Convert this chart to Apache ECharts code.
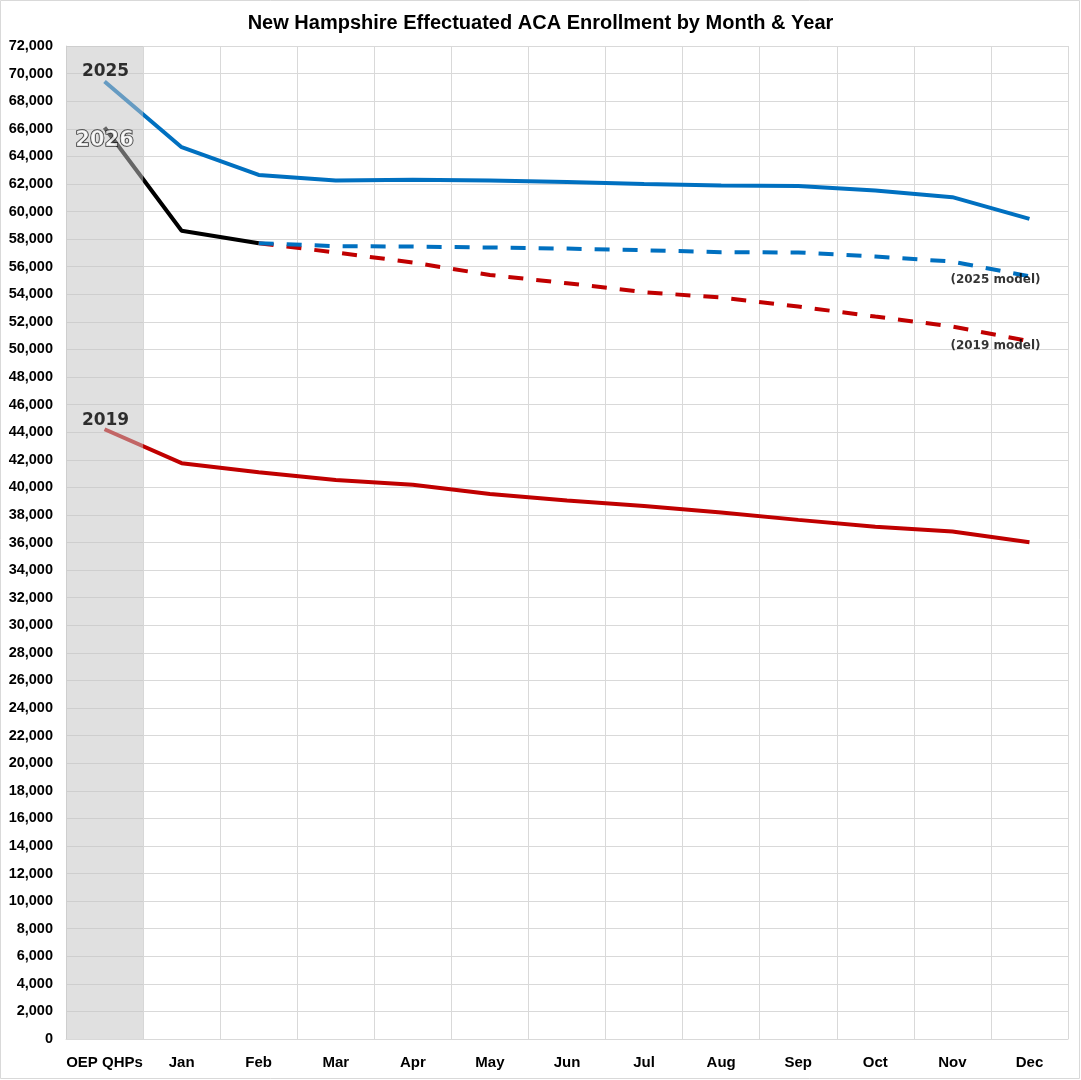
<!DOCTYPE html>
<html>
<head>
<meta charset="utf-8">
<title>New Hampshire Effectuated ACA Enrollment</title>
<script src="https://cdn.jsdelivr.net/npm/echarts@6/dist/echarts.min.js"></script>
<style>
	html, body { margin: 0; padding: 0; background: #fff; }
	#chart-container { width: 1081px; height: 1080px; }
</style>
</head>
<body>
<div id="chart-container"></div>
<script>
var months = ['OEP QHPs', 'Jan', 'Feb', 'Mar', 'Apr', 'May', 'Jun', 'Jul', 'Aug', 'Sep', 'Oct', 'Nov', 'Dec'];

// actual enrollment
var y2025 = [69430, 64660, 62650, 62240, 62300, 62240, 62130, 62000, 61880, 61850, 61520, 61040, 59470];
var y2026 = [66090, 58600, 57700];
var y2019 = [44210, 41750, 41100, 40540, 40180, 39520, 39040, 38650, 38170, 37640, 37150, 36790, 36020];

// projections from Feb onwards
var model2025 = [null, null, 57700, 57490, 57460, 57390, 57310, 57190, 57050, 57030, 56730, 56370, 55300];
var model2019 = [null, null, 57700, 57030, 56300, 55400, 54800, 54150, 53760, 53110, 52380, 51660, 50600];

// the open enrollment column is shaded over its full height
var oepBand = [72000, null, null, null, null, null, null, null, null, null, null, null, null];

var yearLabels = ['2025', '2026', '2019'];
var modelLabels = ['(2025 model)', '(2019 model)'];

var blue = '#0070c0';
var red = '#c00000';
var font = 'Liberation Sans, Arial, sans-serif';
var heavy = 'DejaVu Sans, Liberation Sans, sans-serif';

var dom = document.getElementById('chart-container');
var myChart = echarts.init(dom, null, {
	renderer: 'canvas',
	useDirtyRect: false
});

// text-only series used for the tags, kept above the grey band
function tag(text, cat, value, pos, offset, style) {
	return {
		type: 'scatter',
		z: 20,
		symbolSize: 1,
		itemStyle: { color: 'rgba(0,0,0,0)' },
		silent: true,
		data: [[cat, value]],
		label: Object.assign({
			show: true,
			formatter: text,
			position: pos,
			distance: 0,
			offset: offset,
			fontFamily: heavy,
			fontWeight: 'bold',
			color: '#000',
			textBorderWidth: 0
		}, style)
	};
}

var option;

option = {
	backgroundColor: '#fff',
	animation: false,
	title: {
		text: 'New Hampshire Effectuated ACA Enrollment by Month & Year',
		left: 'center',
		top: 8,
		textStyle: {
			fontFamily: 'Liberation Sans Narrow, Arial Narrow, Liberation Sans, sans-serif',
			fontWeight: 'bold',
			fontSize: 20,
			color: '#000'
		}
	},
	graphic: [{
		type: 'rect',
		silent: true,
		shape: { x: 0.5, y: 0.5, width: 1079, height: 1078 },
		style: { fill: 'none', stroke: '#d9d9d9', lineWidth: 1 }
	}],
	grid: {
		left: 66,
		right: 13,
		top: 46,
		bottom: 41
	},
	xAxis: {
		type: 'category',
		data: months,
		boundaryGap: true,
		axisLine: { show: true, lineStyle: { color: '#d9d9d9' } },
		axisTick: { show: false },
		axisLabel: {
			interval: 0,
			margin: 16,
			color: '#000',
			fontFamily: font,
			fontWeight: 'bold',
			fontSize: 15
		},
		splitLine: { show: true, interval: 0, lineStyle: { color: '#d9d9d9' } }
	},
	yAxis: {
		type: 'value',
		min: 0,
		max: 72000,
		interval: 2000,
		axisLine: { show: true, lineStyle: { color: '#d9d9d9' } },
		axisTick: { show: false },
		axisLabel: {
			margin: 13,
			color: '#000',
			fontFamily: font,
			fontWeight: 'bold',
			fontSize: 14.5,
			formatter: v => v.toLocaleString('en-US')
		},
		splitLine: { show: true, lineStyle: { color: '#d9d9d9' } }
	},
	series: [
		{
			name: '2019 model',
			type: 'line',
			data: model2019,
			symbol: 'none',
			lineStyle: { color: red, width: 4, type: [15, 13] },
			z: 3
		},
		{
			name: '2025 model',
			type: 'line',
			data: model2025,
			symbol: 'none',
			lineStyle: { color: blue, width: 4, type: [15, 13] },
			z: 3
		},
		{
			name: '2019',
			type: 'line',
			data: y2019,
			symbol: 'none',
			lineStyle: { color: red, width: 4 },
			z: 4
		},
		{
			name: '2025',
			type: 'line',
			data: y2025,
			symbol: 'none',
			lineStyle: { color: blue, width: 4 },
			z: 4
		},
		{
			name: '2026',
			type: 'line',
			data: y2026,
			symbol: 'none',
			lineStyle: { color: '#000', width: 4 },
			z: 5
		},
		{
			// grey OEP band sits on top of the lines, so they fade inside it
			name: 'OEP band',
			type: 'bar',
			data: oepBand,
			barWidth: '100%',
			silent: true,
			z: 10,
			itemStyle: { color: 'rgba(195,195,195,0.52)' }
		},
		tag(yearLabels[0], months[0], y2025[0], 'top', [1, -1], { fontSize: 17 }),
		tag(yearLabels[1], months[0], y2026[0], 'bottom', [0, 2], {
			fontSize: 21,
			color: '#fff',
			textBorderColor: '#000',
			textBorderWidth: 1.5
		}),
		tag(yearLabels[2], months[0], y2019[0], 'top', [1, 0], { fontSize: 17 }),
		tag(modelLabels[0], months[12], model2025[12], 'bottom', [-34, -3], { fontSize: 12 }),
		tag(modelLabels[1], months[12], model2019[12], 'bottom', [-34, -2], { fontSize: 12 })
	]
};

if (option && typeof option === 'object') {
	myChart.setOption(option);
}

window.addEventListener('resize', myChart.resize);
</script>
</body>
</html>
